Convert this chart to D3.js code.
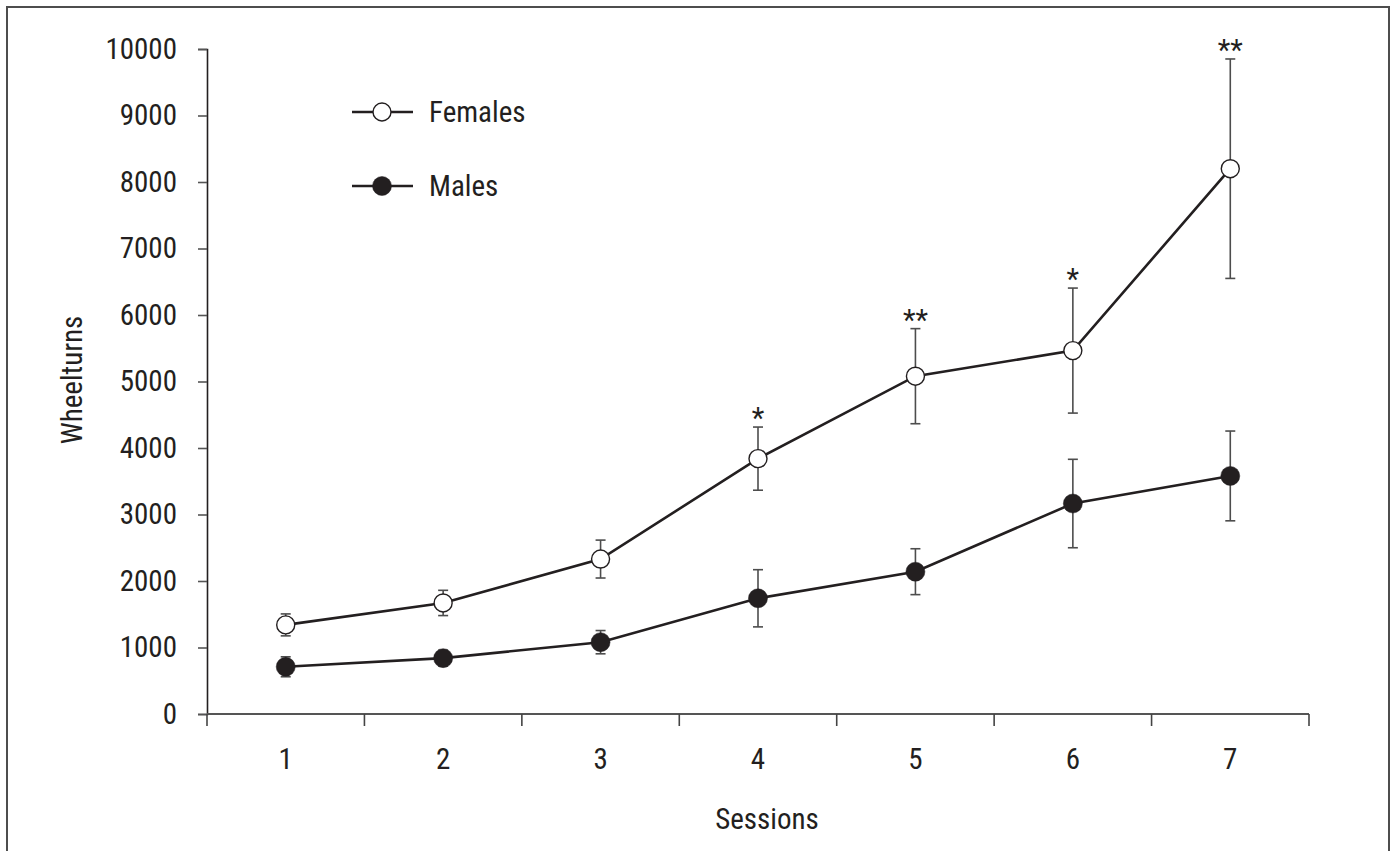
<!DOCTYPE html>
<html>
<head>
<meta charset="utf-8">
<script src="https://cdn.jsdelivr.net/npm/d3@7"></script>
<style>
  html, body { margin: 0; padding: 0; background: #fff; }
  svg text { font-family: "Liberation Sans Narrow", "Arial Narrow", "Roboto Condensed", "Liberation Sans", sans-serif; fill: #231f20; }
</style>
</head>
<body>
<svg id="chart" width="1395" height="851"></svg>
<script>
// Wheel-running activity per session, mean ± SEM
const sessions = ["1", "2", "3", "4", "5", "6", "7"];
const femalesMean = [1340, 1670, 2330, 3840, 5080, 5465, 8200];
const femalesSem  = [165, 190, 285, 475, 715, 940, 1650];
const malesMean   = [710, 840, 1080, 1740, 2140, 3165, 3580];
const malesSem    = [150, 120, 175, 430, 345, 665, 675];
// significance markers over the female series
const signif = ["", "", "", "*", "**", "*", "**"];
const yTicks = [0, 1000, 2000, 3000, 4000, 5000, 6000, 7000, 8000, 9000, 10000];

const ink = "#231f20";
const svg = d3.select("#chart");

// outer frame
svg.append("rect")
  .attr("x", 7).attr("y", 7).attr("width", 1382).attr("height", 860)
  .attr("fill", "none").attr("stroke", "#4d4d4d").attr("stroke-width", 2);

const plotLeft = 207, plotRight = 1309, plotTop = 49, plotBottom = 714;

const x = d3.scaleBand().domain(sessions).range([plotLeft, plotRight]).padding(0);
const y = d3.scaleLinear().domain([0, 10000]).range([plotBottom, plotTop]);
const cx = s => x(s) + x.bandwidth() / 2;

// y axis
const yAxis = svg.append("g")
  .attr("transform", `translate(${plotLeft},0)`)
  .call(d3.axisLeft(y).tickValues(yTicks).tickSize(9).tickPadding(21).tickFormat(d3.format("d")));
yAxis.select(".domain").attr("stroke", ink).attr("stroke-width", 1.6);
yAxis.selectAll(".tick line").attr("stroke", "#555").attr("stroke-width", 1.6);
yAxis.selectAll(".tick text").attr("font-size", 29).attr("fill", ink);

// x axis: ticks at band boundaries, labels at band centres
const xAxisG = svg.append("g").attr("transform", `translate(0,${plotBottom})`);
xAxisG.append("line")
  .attr("x1", plotLeft).attr("x2", plotRight).attr("y1", 0).attr("y2", 0)
  .attr("stroke", "#555").attr("stroke-width", 2);
const boundaries = sessions.map(s => x(s)).concat([x(sessions[sessions.length - 1]) + x.bandwidth()]);
xAxisG.selectAll("line.tick").data(boundaries).enter().append("line")
  .attr("class", "tick")
  .attr("x1", d => d).attr("x2", d => d).attr("y1", 0).attr("y2", 12)
  .attr("stroke", "#444").attr("stroke-width", 1.6);
xAxisG.selectAll("text.tl").data(sessions).enter().append("text")
  .attr("class", "tl")
  .attr("x", d => cx(d)).attr("y", 55)
  .attr("text-anchor", "middle").attr("font-size", 29)
  .text(d => d);

// axis titles
svg.append("text")
  .attr("x", cx("4") + 9).attr("y", 829)
  .attr("text-anchor", "middle").attr("font-size", 29)
  .text("Sessions");
svg.append("text")
  .attr("transform", "translate(82,380) rotate(-90)")
  .attr("text-anchor", "middle").attr("font-size", 29)
  .text("Wheelturns");

function drawSeries(means, sems, filled) {
  const pts = sessions.map((s, i) => ({ s, m: means[i], e: sems[i] }));
  const g = svg.append("g");
  // error bars
  const eb = g.selectAll("g.eb").data(pts).enter().append("g")
    .attr("stroke", "#4d4d4d").attr("stroke-width", 1.6);
  eb.append("line")
    .attr("x1", d => cx(d.s)).attr("x2", d => cx(d.s))
    .attr("y1", d => y(d.m + d.e)).attr("y2", d => y(d.m - d.e));
  eb.append("line")
    .attr("x1", d => cx(d.s) - 5).attr("x2", d => cx(d.s) + 5)
    .attr("y1", d => y(d.m + d.e)).attr("y2", d => y(d.m + d.e));
  eb.append("line")
    .attr("x1", d => cx(d.s) - 5).attr("x2", d => cx(d.s) + 5)
    .attr("y1", d => y(d.m - d.e)).attr("y2", d => y(d.m - d.e));
  // connecting line
  g.append("path")
    .datum(pts)
    .attr("fill", "none").attr("stroke", ink).attr("stroke-width", 2.6)
    .attr("d", d3.line().x(d => cx(d.s)).y(d => y(d.m)));
  // markers
  g.selectAll("circle").data(pts).enter().append("circle")
    .attr("cx", d => cx(d.s)).attr("cy", d => y(d.m))
    .attr("r", filled ? 9.5 : 9)
    .attr("fill", filled ? ink : "#fff")
    .attr("stroke", ink).attr("stroke-width", filled ? 0.5 : 1.4);
}

drawSeries(malesMean, malesSem, true);
drawSeries(femalesMean, femalesSem, false);

// significance asterisks
svg.selectAll("text.sig").data(sessions.map((s, i) => ({ s, t: signif[i], hi: femalesMean[i] + femalesSem[i] })))
  .enter().append("text")
  .attr("class", "sig")
  .attr("x", d => cx(d.s)).attr("y", d => y(d.hi) + 1)
  .attr("text-anchor", "middle").attr("font-size", 29)
  .text(d => d.t);

// legend
const legend = [
  { label: "Females", filled: false, yy: 112 },
  { label: "Males", filled: true, yy: 186 }
];
const lg = svg.selectAll("g.lg").data(legend).enter().append("g").attr("class", "lg");
lg.append("line")
  .attr("x1", 352).attr("x2", 413).attr("y1", d => d.yy).attr("y2", d => d.yy)
  .attr("stroke", ink).attr("stroke-width", 2.6);
lg.append("circle")
  .attr("cx", 382).attr("cy", d => d.yy)
  .attr("r", d => d.filled ? 9.5 : 9)
  .attr("fill", d => d.filled ? ink : "#fff")
  .attr("stroke", ink).attr("stroke-width", d => d.filled ? 0.5 : 1.4);
lg.append("text")
  .attr("x", 429).attr("y", d => d.yy + 10)
  .attr("font-size", 29)
  .text(d => d.label);
</script>
</body>
</html>
